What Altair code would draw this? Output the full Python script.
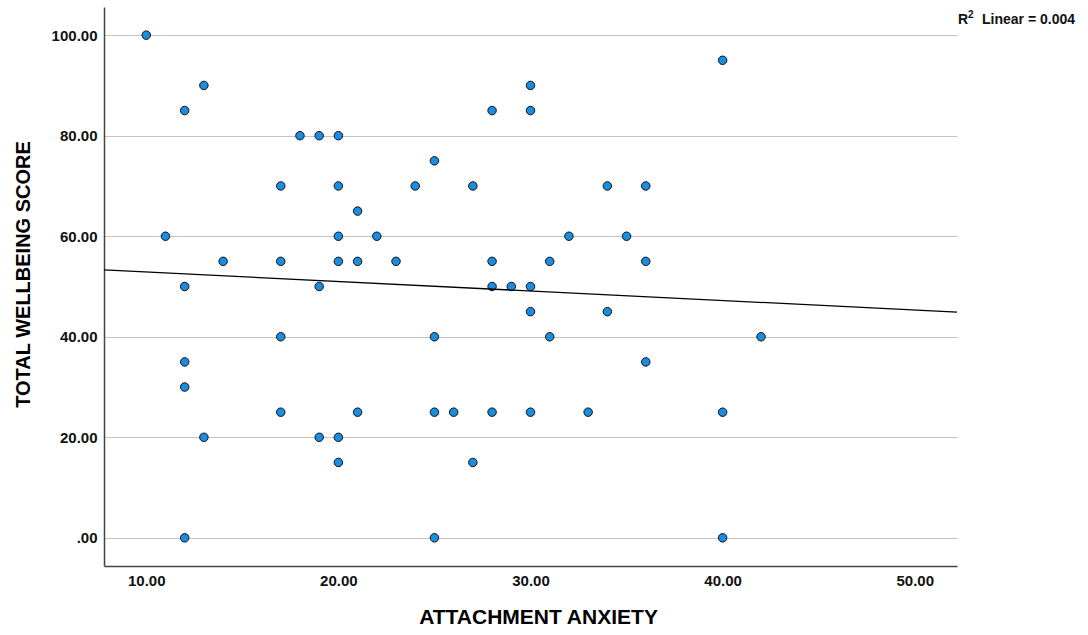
import altair as alt
import pandas as pd

# Attachment anxiety (x) and total wellbeing score (y)
anxiety = [10, 12, 13, 11, 14, 12, 12, 12, 13, 12,
           17, 17, 17, 17, 18, 19, 20, 20, 20, 20,
           19, 19, 20, 20, 21, 21, 21, 22, 23, 24,
           25, 25, 25, 25, 26, 27, 27, 28, 28, 28,
           28, 29, 30, 30, 30, 30, 30, 31, 31, 32,
           33, 34, 34, 35, 36, 36, 36, 40, 40, 40,
           42]
wellbeing = [100, 85, 90, 60, 55, 50, 35, 30, 20, 0,
             70, 55, 40, 25, 80, 80, 80, 70, 60, 55,
             50, 20, 20, 15, 65, 55, 25, 60, 55, 70,
             75, 40, 25, 0, 25, 70, 15, 85, 55, 50,
             25, 50, 90, 85, 50, 45, 25, 55, 40, 60,
             25, 70, 45, 60, 70, 55, 35, 95, 25, 0,
             40]

x_ticks = [10, 20, 30, 40, 50]
y_ticks = [0, 20, 40, 60, 80, 100]
x_domain = [7.8, 52.2]
y_domain = [-5.6, 105.6]
fit_label = "Linear = 0.004"

df = pd.DataFrame({"x": anxiety, "y": wellbeing})

FONT = "Liberation Sans"
W, H = 853, 559

xscale = alt.Scale(domain=x_domain, nice=False, zero=False)
yscale = alt.Scale(domain=y_domain, nice=False, zero=False)

base = alt.Chart(df)

points = base.mark_point(
    shape="circle", filled=True, size=72, fill="#1a8de0",
    stroke="#111111", strokeWidth=1, opacity=1
).encode(
    x=alt.X("x:Q", scale=xscale, axis=alt.Axis(
        values=x_ticks, format=".2f", title="ATTACHMENT ANXIETY",
        grid=False, ticks=False, labelPadding=7,
        labelFont=FONT, labelFontSize=15, labelFontWeight="bold", labelColor="#111111",
        titleFont=FONT, titleFontSize=21, titleFontWeight="bold", titleColor="#000000",
        titleX=434, titleY=51, titleBaseline="middle", titleAlign="center",
        domainColor="#444444", domainWidth=1.5)),
    y=alt.Y("y:Q", scale=yscale, axis=alt.Axis(
        values=y_ticks, title="TOTAL WELLBEING SCORE",
        labelExpr="datum.value == 0 ? '.00' : format(datum.value, '.2f')",
        grid=True, gridColor="#c4c4c4", gridWidth=1.2,
        ticks=False, labelPadding=7,
        labelFont=FONT, labelFontSize=15, labelFontWeight="bold", labelColor="#111111",
        titleFont=FONT, titleFontSize=20, titleFontWeight="bold", titleColor="#000000",
        titleX=-81, titleY=267, titleAngle=270, titleBaseline="middle", titleAlign="center",
        domainColor="#444444", domainWidth=1.5)),
)

fit = base.transform_regression(
    "x", "y", method="linear", extent=x_domain
).mark_line(color="#000000", strokeWidth=1.3, clip=True).encode(
    x=alt.X("x:Q", scale=xscale),
    y=alt.Y("y:Q", scale=yscale),
)

lab_df = pd.DataFrame({"r": ["R"], "sup": ["2"], "txt": [fit_label]})
lab_base = alt.Chart(lab_df)
r_text = lab_base.mark_text(
    align="left", baseline="middle", font=FONT, fontSize=14, fontWeight="bold", color="#111111"
).encode(text="r:N", x=alt.value(854), y=alt.value(13))
sup_text = lab_base.mark_text(
    align="left", baseline="middle", font=FONT, fontSize=10, fontWeight="bold", color="#111111"
).encode(text="sup:N", x=alt.value(864), y=alt.value(8))
l_text = lab_base.mark_text(
    align="left", baseline="middle", font=FONT, fontSize=14, fontWeight="bold", color="#111111"
).encode(text="txt:N", x=alt.value(878), y=alt.value(13))

chart = alt.layer(points, fit, r_text, sup_text, l_text).properties(
    width=W, height=H,
    autosize=alt.AutoSizeParams(type="none"),
    padding={"left": 104, "top": 7, "right": 131, "bottom": 69},
    background="white",
).configure_view(stroke=None)

chart.save("out.html", embed_options={"renderer": "svg", "actions": False})
